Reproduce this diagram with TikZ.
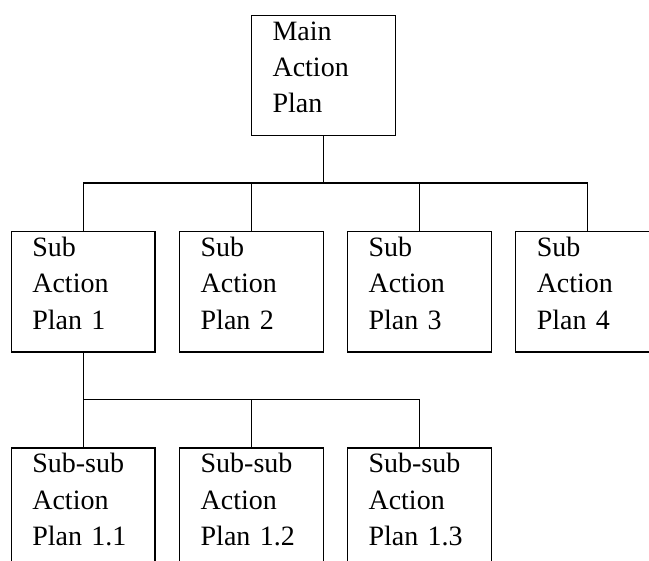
\documentclass[tikz,border=0pt]{standalone}
\usepackage{fontspec}
\setmainfont{Liberation Serif}
\begin{document}
\begin{tikzpicture}[x=1pt,y=-1pt,line width=1.3pt,
  planbox/.style={draw=black, anchor=north west, inner xsep=21pt, inner ysep=0pt,
    text width=101.6pt, align=left, text height=25pt, text depth=95.3pt,
    minimum width=143.6pt, font=\fontsize{28}{36.3}\selectfont}]
\useasboundingbox (0,0) rectangle (649,561);
\clip (0,0) rectangle (649,561);
\fill[white] (0,0) rectangle (649,561);
\node[planbox] (m) at (250.9,14.7) {Main\\Action\\Plan};
\node[planbox] (s1) at (10.7,231) {Sub\\Action\\Plan 1};
\node[planbox] (s2) at (179,231) {Sub\\Action\\Plan 2};
\node[planbox] (s3) at (346.9,231) {Sub\\Action\\Plan 3};
\node[planbox] (s4) at (515.1,231) {Sub\\Action\\Plan 4};
\node[planbox] (t1) at (10.7,447.3) {Sub-sub\\Action\\Plan 1.1};
\node[planbox] (t2) at (179,447.3) {Sub-sub\\Action\\Plan 1.2};
\node[planbox] (t3) at (346.9,447.3) {Sub-sub\\Action\\Plan 1.3};
\coordinate (bus1) at (322.7,183);
\coordinate (bus2) at (82.5,399.3);
\draw (m.south) -- (m.south |- bus1);
\draw (s1.north) -- (s1.north |- bus1) -| (s4.north);
\draw (s2.north) -- (s2.north |- bus1);
\draw (s3.north) -- (s3.north |- bus1);
\draw (s1.south) -- (s1.south |- bus2);
\draw (t1.north) -- (t1.north |- bus2) -| (t3.north);
\draw (t2.north) -- (t2.north |- bus2);
\end{tikzpicture}
\end{document}
